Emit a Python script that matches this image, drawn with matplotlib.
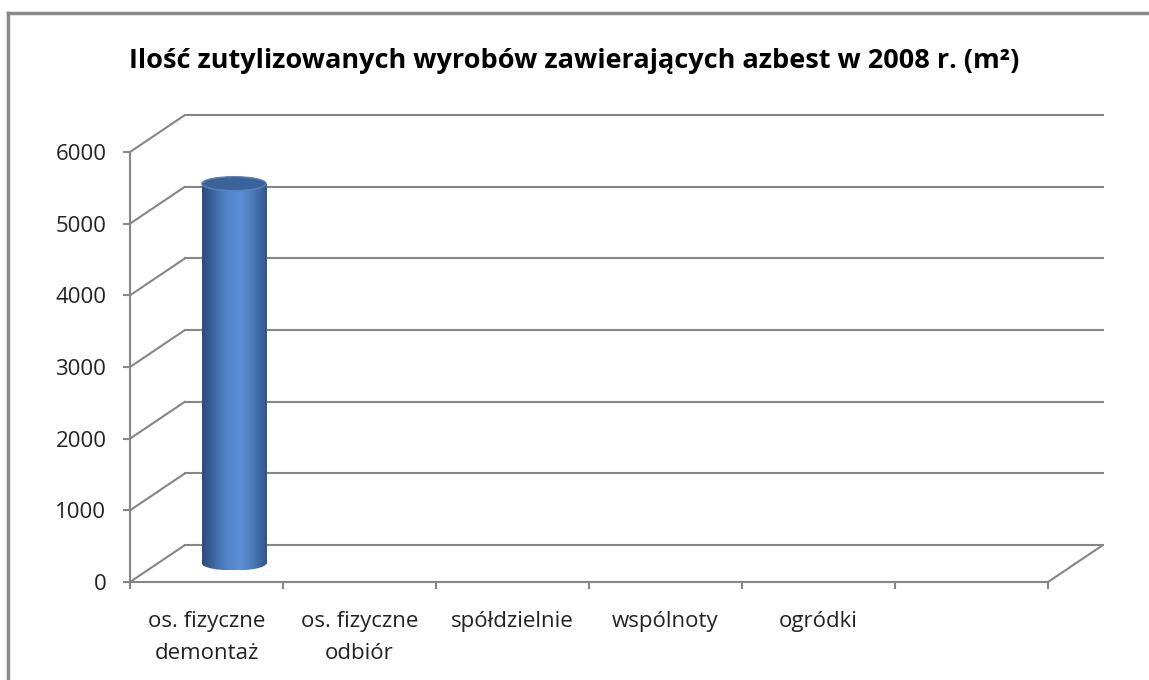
import numpy as np
import matplotlib.pyplot as plt
import matplotlib.transforms as mtransforms
from matplotlib.colors import LinearSegmentedColormap
from matplotlib.lines import Line2D
from matplotlib.patches import ConnectionPatch, Ellipse

# dane
categories = ["os. fizyczne\ndemontaż", "os. fizyczne\nodbiór", "spółdzielnie",
              "wspólnoty", "ogródki", ""]
values = [5300, 0, 0, 0, 0, 0]
y_ticks = [0, 1000, 2000, 3000, 4000, 5000, 6000]
title = "Ilość zutylizowanych wyrobów zawierających azbest w 2008 r. (m²)"

GRID = "#868686"
plt.rcParams["font.family"] = ["Open Sans", "DejaVu Sans"]

fig = plt.figure(figsize=(11.49, 6.80), dpi=100)
ax = fig.add_axes([130 / 1149, 98 / 680, 918 / 1149, 430 / 680])
ax.set_xlim(0, len(categories))
ax.set_ylim(0, 6000)

# przesuniecie glebi (tylna sciana i srodek)
back = ax.transData + mtransforms.ScaledTranslation(0.55, 0.37, fig.dpi_scale_trans)
mid = ax.transData + mtransforms.ScaledTranslation(0.275, 0.185, fig.dpi_scale_trans)

# siatka: skosy + linie na tylnej scianie
for v in y_ticks:
    ax.add_artist(ConnectionPatch((0, v), (0, v), coordsA=ax.transData, coordsB=back,
                                  color=GRID, lw=1.5, clip_on=False))
    ax.plot([0, len(categories)], [v, v], transform=back, color=GRID, lw=1.5,
            clip_on=False)
ax.add_artist(ConnectionPatch((len(categories), 0), (len(categories), 0),
                              coordsA=ax.transData, coordsB=back,
                              color=GRID, lw=1.5, clip_on=False))

# osie
for s in ["top", "right"]:
    ax.spines[s].set_visible(False)
ax.spines["left"].set_color(GRID)
ax.spines["bottom"].set_color(GRID)
ax.spines["left"].set_linewidth(1.5)
ax.spines["bottom"].set_linewidth(1.5)
ax.set_yticks(y_ticks)
ax.set_yticklabels([str(v) for v in y_ticks])
ax.tick_params(axis="y", direction="out", length=5, width=1.5, color=GRID,
               labelsize=16, pad=12, labelcolor="#222222")
ax.set_xticks(np.arange(len(categories) + 1))
ax.set_xticklabels([])
ax.set_xticks(np.arange(len(categories)) + 0.5, minor=True)
ax.set_xticklabels(categories, minor=True, linespacing=1.65)
ax.tick_params(axis="x", which="major", direction="out", length=5, width=1.5, color=GRID)
ax.tick_params(axis="x", which="minor", length=0, labelsize=16, pad=21,
               labelcolor="#222222")
ax.patch.set_visible(False)

# walce
cmap = LinearSegmentedColormap.from_list(
    "cyl", ["#2b4c7c", "#3f69a6", "#5386cc", "#5b8fd6", "#4a78b8", "#2f5688"])
grad = np.linspace(0, 1, 256).reshape(1, -1)
bw = 0.42
eh = 195
for i, v in enumerate(values):
    if v <= 0:
        continue
    x0 = i + 0.5 - bw / 2
    bar = ax.bar(i + 0.5, v, width=bw, transform=mid, color="none",
                 clip_on=False)[0]
    im = ax.imshow(grad, cmap=cmap, aspect="auto", extent=(x0, x0 + bw, 0, v),
                   transform=mid, clip_on=True, zorder=3)
    im.set_clip_path(bar)
    bottom = Ellipse((i + 0.5, 0), bw, eh, transform=mid, facecolor="none",
                     edgecolor="none", clip_on=False)
    ax.add_patch(bottom)
    im2 = ax.imshow(grad, cmap=cmap, aspect="auto",
                    extent=(x0, x0 + bw, -eh / 2, eh / 2),
                    transform=mid, zorder=3)
    im2.set_clip_path(bottom)
    top = Ellipse((i + 0.5, v), bw, eh, transform=mid, facecolor="#3a6399",
                  edgecolor="#5683c0", lw=1, zorder=4, clip_on=False)
    ax.add_patch(top)

ax.set_xlim(0, len(categories))
ax.set_ylim(0, 6000)

fig.text(0.5, 1 - 61 / 680, title, ha="center", va="center", fontsize=19.5,
         fontweight="bold", color="#000000")

# ramka wykresu (tylko gora i lewa strona widoczne)
fx, fy = 8 / 1149, 1 - 13 / 680
fig.add_artist(Line2D([fx, 1.1], [fy, fy], transform=fig.transFigure,
                      color="#8a8a8a", lw=2.5))
fig.add_artist(Line2D([fx, fx], [-0.1, fy], transform=fig.transFigure,
                      color="#8a8a8a", lw=2.5))

fig.savefig("out.png", dpi=100)
